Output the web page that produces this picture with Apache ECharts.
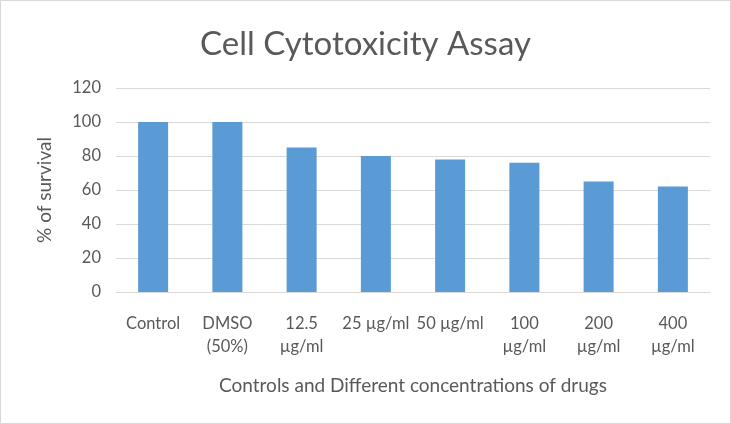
<!DOCTYPE html>
<html><head><meta charset="utf-8">
<script src="https://cdn.jsdelivr.net/npm/echarts@6/dist/echarts.min.js"></script>
<style>html,body{margin:0;padding:0;background:#fff}#c{width:731px;height:424px;box-sizing:border-box;border:1px solid #d9d9d9}</style>
</head><body><div id="c"></div>
<script>
const categories = ["Control", "DMSO\n(50%)", "12.5\nµg/ml", "25 µg/ml", "50 µg/ml", "100\nµg/ml", "200\nµg/ml", "400\nµg/ml"];
const survival = [100, 100, 85, 80, 78, 76, 65, 62];
const yTicks = [0, 20, 40, 60, 80, 100, 120];

const chart = echarts.init(document.getElementById('c'));
const font = 'Lato, Carlito, "Open Sans", sans-serif';
chart.setOption({
  animation: false,
  title: {
    text: 'Cell Cytotoxicity Assay', left: 'center', top: 22,
    textStyle: {fontFamily: font, fontSize: 33, fontWeight: 'normal', color: '#595959'}
  },
  grid: {left: 115, right: 20, top: 87, bottom: 131},
  xAxis: {
    type: 'category', data: categories,
    name: 'Controls and Different concentrations of drugs',
    nameLocation: 'middle', nameGap: 84,
    nameTextStyle: {fontFamily: font, fontSize: 19, color: '#595959'},
    axisLine: {lineStyle: {color: '#d9d9d9'}},
    axisTick: {show: false},
    axisLabel: {interval: 0, fontFamily: font, fontSize: 16.5, color: '#595959', lineHeight: 23, margin: 20, verticalAlign: 'top'}
  },
  yAxis: {
    type: 'value', min: yTicks[0], max: yTicks[yTicks.length - 1], interval: 20,
    name: '% of survival', nameLocation: 'middle', nameGap: 62,
    nameTextStyle: {fontFamily: font, fontSize: 19, color: '#595959'},
    axisLine: {show: false}, axisTick: {show: false},
    axisLabel: {fontFamily: font, fontSize: 16.5, color: '#595959', margin: 15},
    splitLine: {lineStyle: {color: '#d9d9d9'}}
  },
  series: [{
    type: 'bar', data: survival, barWidth: 30,
    itemStyle: {color: '#5b9bd5'}
  }]
});
</script></body></html>
